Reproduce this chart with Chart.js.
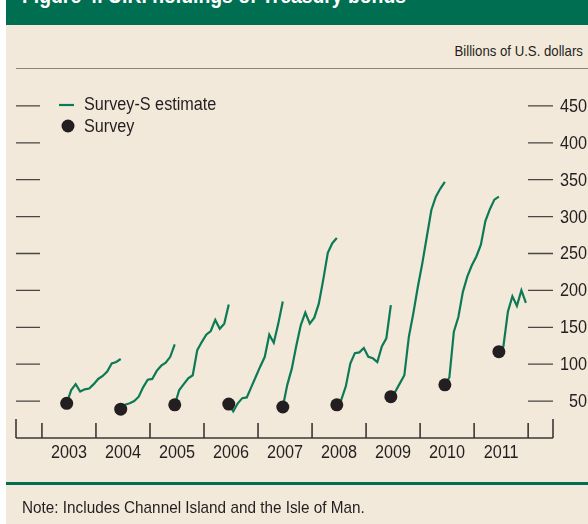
<!DOCTYPE html>
<html>
<head>
<meta charset="utf-8">
<script src="https://cdn.jsdelivr.net/npm/chart.js@4.4.0/dist/chart.umd.min.js"></script>
<style>
  html, body { margin: 0; padding: 0; background: #fff; }
  #wrap { position: relative; width: 588px; height: 524px; overflow: hidden; background: #fff; }
  #panel { position: absolute; left: 6px; top: 0; width: 582px; height: 524px; background: #f3e9da; }
  #header { position: absolute; left: 6px; top: 0; width: 582px; height: 25px; background: #006f51; overflow: hidden; }
  #header span { position: absolute; left: 16px; top: -17px; color: #fff; white-space: nowrap;
    font: bold 22px 'Liberation Sans', Arial, sans-serif; transform: scaleX(0.88); transform-origin: left top; }
  #units { position: absolute; right: 5px; top: 42px; color: #231f20; white-space: nowrap;
    font: 15px 'Liberation Sans', Arial, sans-serif; transform: scaleX(0.88); transform-origin: right top; }
  #rule { position: absolute; left: 6px; top: 482px; width: 582px; height: 3px; background: #006f51; }
  #note { position: absolute; left: 22px; top: 498px; color: #231f20; white-space: nowrap;
    font: 17px 'Liberation Sans', Arial, sans-serif; transform: scaleX(0.9); transform-origin: left top; }
  #chart { position: absolute; left: 0; top: 0; }
</style>
</head>
<body>
<div id="wrap">
  <div id="panel"></div>
  <div id="header"><span>Figure 4. U.K. holdings of Treasury bonds</span></div>
  <div id="units">Billions of U.S. dollars</div>
  <canvas id="chart" width="588" height="524"></canvas>
  <div id="rule"></div>
  <div id="note">Note: Includes Channel Island and the Isle of Man.</div>
</div>
<script>
// survey dates (end of June each year) and values
const surveyYears = [2003, 2004, 2005, 2006, 2007, 2008, 2009, 2010, 2011];
const surveyValues = [47, 39, 45, 46, 42, 45, 56, 72, 117];

// Survey-S monthly estimates, July through June after each survey
const est2003 = [65, 73, 63, 66, 67, 73, 80, 84, 90, 101, 103, 107];
const est2004 = [45, 47, 50, 56, 69, 79, 80, 91, 98, 102, 110, 127];
const est2005 = [65, 73, 81, 85, 119, 130, 140, 145, 160, 148, 155, 181];
const est2006 = [36, 47, 54, 55, 69, 83, 97, 110, 140, 129, 155, 185];
const est2007 = [72, 94, 125, 153, 170, 155, 163, 182, 215, 251, 264, 271];
const est2008 = [52, 70, 101, 115, 116, 122, 110, 108, 103, 124, 135, 180];
const est2009 = [63, 74, 85, 137, 169, 205, 237, 273, 309, 327, 338, 347];
const est2010 = [82, 144, 164, 198, 219, 234, 246, 262, 294, 310, 323, 327];
const est2011 = [124, 171, 192, 179, 200, 183];
const estimates = [est2003, est2004, est2005, est2006, est2007, est2008, est2009, est2010, est2011];

const yTicks = [50, 100, 150, 200, 250, 300, 350, 400, 450];
const yearLabels = ['2003', '2004', '2005', '2006', '2007', '2008', '2009', '2010', '2011'];
const yearTicks = [2003, 2004, 2005, 2006, 2007, 2008, 2009, 2010, 2011, 2012];

const INK = '#231f20';
const GREEN = '#0b7a55';

// month m (1..12) of year y, placed mid-month
const monthX = (y, m) => y + (m - 0.5) / 12;

const surveyPts = surveyYears.map((y, i) => ({ x: monthX(y, 6), y: surveyValues[i] }));
const estimatePts = [];
surveyYears.forEach((y, i) => {
  estimatePts.push({ x: monthX(y, 6), y: surveyValues[i] });
  estimates[i].forEach((v, k) => {
    estimatePts.push({ x: monthX(y, 7) + k / 12, y: v });
  });
  estimatePts.push({ x: monthX(y, 7) + estimates[i].length / 12, y: null });
});

// condensed-looking text: Liberation Sans squeezed horizontally
function narrowText(ctx, text, x, y, size, align) {
  ctx.save();
  ctx.translate(x, y);
  ctx.scale(0.9, 1);
  ctx.font = size + "px 'Liberation Sans', Arial, sans-serif";
  ctx.textAlign = align;
  ctx.textBaseline = 'middle';
  ctx.fillStyle = INK;
  ctx.fillText(text, 0, 0);
  ctx.restore();
}

const framePlugin = {
  id: 'frame',
  beforeDatasetsDraw(chart) {
    const { ctx, chartArea: a, scales: { x, y } } = chart;
    ctx.save();
    // top rule (500 level)
    const top = Math.round(y.getPixelForValue(500)) - 0.5;
    ctx.strokeStyle = '#8a8580';
    ctx.lineWidth = 1;
    ctx.beginPath();
    ctx.moveTo(a.left, top);
    ctx.lineTo(588, top);
    ctx.stroke();

    // y dashes left and right, labels on the right
    ctx.strokeStyle = '#4a4643';
    ctx.lineWidth = 1.3;
    yTicks.forEach(t => {
      const py = y.getPixelForValue(t);
      ctx.beginPath();
      ctx.moveTo(a.left, py); ctx.lineTo(a.left + 24, py);
      ctx.moveTo(a.right - 25, py); ctx.lineTo(a.right, py);
      ctx.stroke();
      narrowText(ctx, String(t), 587, py + 1, 18, 'right');
    });

    // x axis
    const y0 = y.getPixelForValue(0);
    ctx.strokeStyle = '#3c3836';
    ctx.lineWidth = 1.6;
    ctx.beginPath();
    ctx.moveTo(a.left, y0); ctx.lineTo(a.right, y0);
    ctx.moveTo(a.left, y0); ctx.lineTo(a.left, y0 - 19);
    ctx.moveTo(a.right, y0); ctx.lineTo(a.right, y0 - 19);
    yearTicks.forEach(t => {
      const px = x.getPixelForValue(t);
      ctx.moveTo(px, y0); ctx.lineTo(px, y0 - 15);
    });
    ctx.stroke();
    yearLabels.forEach((lab, i) => {
      narrowText(ctx, lab, x.getPixelForValue(yearTicks[i] + 0.5), y0 + 15, 18, 'center');
    });
    ctx.restore();
  },
  afterDraw(chart) {
    const { ctx } = chart;
    ctx.save();
    ctx.strokeStyle = GREEN;
    ctx.lineWidth = 2.2;
    ctx.beginPath();
    ctx.moveTo(59, 105); ctx.lineTo(74, 105);
    ctx.stroke();
    ctx.fillStyle = INK;
    ctx.beginPath();
    ctx.arc(68, 126, 6.5, 0, Math.PI * 2);
    ctx.fill();
    ctx.restore();
    narrowText(ctx, 'Survey-S estimate', 84, 105, 18, 'left');
    narrowText(ctx, 'Survey', 84, 127, 18, 'left');
  }
};

new Chart(document.getElementById('chart').getContext('2d'), {
  type: 'line',
  data: {
    datasets: [
      {
        label: 'Survey',
        data: surveyPts,
        showLine: false,
        pointRadius: 6.5,
        pointBackgroundColor: INK,
        pointBorderWidth: 0
      },
      {
        label: 'Survey-S estimate',
        data: estimatePts,
        borderColor: GREEN,
        borderWidth: 2.2,
        pointRadius: 0,
        spanGaps: false,
        tension: 0
      }
    ]
  },
  options: {
    responsive: false,
    animation: false,
    layout: { padding: { left: 16, right: 35, top: 69, bottom: 86 } },
    plugins: { legend: { display: false }, tooltip: { enabled: false } },
    scales: {
      x: { type: 'linear', min: 2002.52, max: 2012.46, display: false },
      y: { min: 0, max: 500, display: false }
    }
  },
  plugins: [framePlugin]
});
</script>
</body>
</html>
